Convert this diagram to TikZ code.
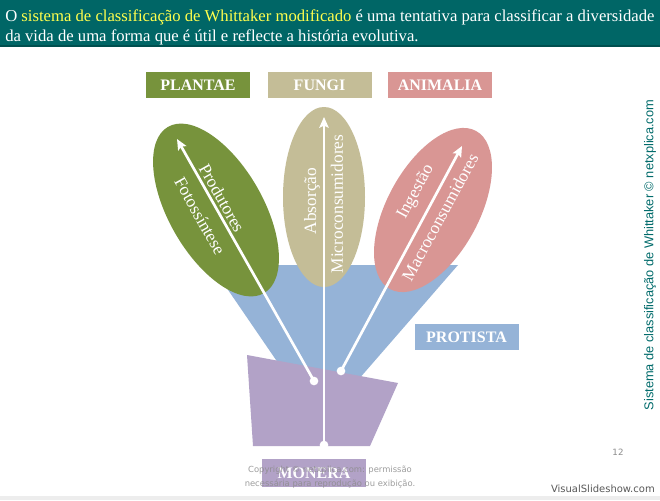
\documentclass[tikz,border=0pt]{standalone}
\usepackage{fontspec}
\setmainfont{Liberation Serif}
\newfontfamily\arialf{Liberation Sans}
\newfontfamily\dejavuf{DejaVu Sans}
\usetikzlibrary{arrows.meta}
\definecolor{tealband}{HTML}{006666}
\definecolor{tealline}{HTML}{004F4F}
\definecolor{hiyel}{HTML}{FFFF4D}
\definecolor{plantc}{HTML}{77933C}
\definecolor{fungc}{HTML}{C4BD97}
\definecolor{animc}{HTML}{D99694}
\definecolor{protc}{HTML}{95B3D7}
\definecolor{monc}{HTML}{B2A2C7}
\definecolor{sidec}{HTML}{006B6B}
\tikzset{
  kbox/.style={minimum width=78pt, minimum height=19.5pt, inner sep=0pt, text=white,
    font=\fontsize{12}{14}\selectfont\bfseries},
  eltext/.style={text=white, inner sep=0pt, font=\fontsize{13}{15}\selectfont},
  arr/.style={white, line width=2pt, -{Stealth[length=8pt,width=7pt,inset=1.5pt]}},
  adot/.style={circle, fill=white, inner sep=0pt, minimum size=6.5pt},
  hdr/.style={anchor=base west, inner sep=0pt, text=white, font=\fontsize{12.5}{14}\selectfont},
}
\begin{document}
\begin{tikzpicture}[x=0.75pt,y=-0.75pt]
\useasboundingbox (0,0) rectangle (660,500);
\fill[white] (0,0) rectangle (660,500);
% header
\fill[tealband] (0,0) rectangle (660,47);
\fill[tealline] (0,45) rectangle (660,47);
\node[hdr] (h1) at (5,21) {O \textcolor{hiyel}{sistema de classificação de Whittaker modificado} é uma tentativa para classificar a diversidade};
\node[hdr] (h2) at (5,41) {da vida de uma forma que é útil e reflecte a história evolutiva.};
% bottom strip
\fill[black!7] (0,496) rectangle (660,500);
% protista funnel
\fill[protc] (211,265) -- (458,265) -- (345,395) -- (300,395) -- cycle;
% ellipses
\fill[plantc, rotate around={30:(216,210)}] (216,210) ellipse [x radius=47, y radius=96];
\fill[fungc] (324,197) ellipse [x radius=41, y radius=90];
\fill[animc, rotate around={-28.5:(433,210)}] (433,210) ellipse [x radius=46, y radius=90];
% monera
\fill[monc] (247,355) -- (398,383) -- (370,446) -- (253,446) -- cycle;
% arrows
\node[adot] (g0) at (314,381) {};
\coordinate (g1) at (177,139);
\node[adot] (f0) at (324,445) {};
\coordinate (f1) at (324,117);
\node[adot] (a0) at (341,371) {};
\coordinate (a1) at (462,146);
\draw[arr] (g0.center) -- (g1);
\draw[arr] (f0.center) -- (f1);
\draw[arr] (a0.center) -- (a1);
% ellipse texts
\node[eltext, rotate=-60.6] (t1) at (222,198) {Produtores};
\node[eltext, rotate=-60.6] (t2) at (200,216) {Fotossíntese};
\node[eltext, rotate=90] (t3) at (312,201) {Absorção};
\node[eltext, rotate=90] (t4) at (337,204) {Microconsumidores};
\node[eltext, rotate=61.5] (t5) at (416,192) {Ingestão};
\node[eltext, rotate=61.5] (t6) at (440,217) {Macroconsumidores};
% kingdom labels
\node[kbox, fill=plantc] (plantae) at (198,85) {PLANTAE};
\node[kbox, fill=fungc] (fungi) at (319.5,85) {FUNGI};
\node[kbox, fill=animc] (animalia) at (440,85) {ANIMALIA};
\node[kbox, fill=protc] (protista) at (466.5,337) {PROTISTA};
\node[kbox, fill=monc, minimum height=21pt] (monera) at (314,473) {MONERA};
% copyright
\node[text=black!45, opacity=0.85, inner sep=0pt, align=center, font=\dejavuf\fontsize{6.3}{10}\selectfont] (copy) at (330,477)
  {Copyright © netxplica.com: permissão\\necessária para reprodução ou exibição.};
\node[text=black!45, inner sep=0pt, font=\dejavuf\fontsize{6.5}{8}\selectfont] (pg) at (618,452) {12};
\node[text=black!65, inner sep=0pt, anchor=east, font=\dejavuf\fontsize{7.5}{9}\selectfont] (vs) at (655,489) {VisualSlideshow.com};
% side text
\node[text=sidec, rotate=90, inner sep=0pt, font=\arialf\fontsize{9.6}{11}\selectfont] (side) at (650,255) {Sistema de classificação de Whittaker © netxplica.com};
\end{tikzpicture}
\end{document}
